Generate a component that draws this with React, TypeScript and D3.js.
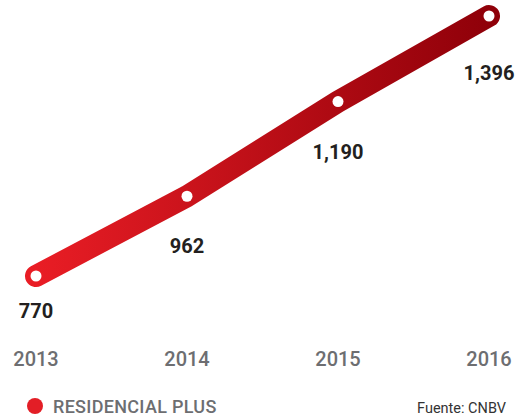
import React, { useEffect, useRef } from 'react';
import * as d3 from 'd3';

const years = ['2013', '2014', '2015', '2016'];
const values = [770, 962, 1190, 1396];
const seriesName = 'RESIDENCIAL PLUS';
const source = 'Fuente: CNBV';

const App = () => {
  const svgRef = useRef<SVGSVGElement>(null);

  useEffect(() => {
    const svg = d3.select(svgRef.current);
    svg.selectAll('*').remove();

    const x = d3.scalePoint<string>()
      .domain(years)
      .range([36, 489]);

    const y = d3.scaleLinear()
      .domain([770, 1396])
      .range([276, 16]);

    const data = years.map((yr, i) => ({ year: yr, value: values[i] }));

    // horizontal gradient for the thick line
    const defs = svg.append('defs');
    const grad = defs.append('linearGradient')
      .attr('id', 'lineGrad')
      .attr('gradientUnits', 'userSpaceOnUse')
      .attr('x1', x(years[0])!)
      .attr('x2', x(years[years.length - 1])!)
      .attr('y1', 0)
      .attr('y2', 0);
    grad.append('stop').attr('offset', '0%').attr('stop-color', '#e91d25');
    grad.append('stop').attr('offset', '100%').attr('stop-color', '#8f0009');

    const line = d3.line<{ year: string; value: number }>()
      .x(d => x(d.year)!)
      .y(d => y(d.value));

    svg.append('path')
      .datum(data)
      .attr('d', line)
      .attr('fill', 'none')
      .attr('stroke', 'url(#lineGrad)')
      .attr('stroke-width', 22)
      .attr('stroke-linecap', 'round')
      .attr('stroke-linejoin', 'round');

    // white dots
    svg.append('g')
      .selectAll('circle')
      .data(data)
      .join('circle')
      .attr('cx', d => x(d.year)!)
      .attr('cy', d => y(d.value))
      .attr('r', 5.5)
      .attr('fill', '#fff');

    // value labels
    svg.append('g')
      .selectAll('text')
      .data(data)
      .join('text')
      .attr('x', d => x(d.year)!)
      .attr('y', (d, i) => y(d.value) + (i === 0 ? 42 : 57 + (i === 3 ? 7 : 0)))
      .attr('text-anchor', 'middle')
      .attr('fill', '#231f20')
      .style('font-family', 'Roboto, sans-serif')
      .style('font-weight', 'bold')
      .style('font-size', '20px')
      .text(d => d3.format(',')(d.value));

    // year axis labels
    svg.append('g')
      .selectAll('text')
      .data(years)
      .join('text')
      .attr('x', d => x(d)!)
      .attr('y', 366)
      .attr('text-anchor', 'middle')
      .attr('fill', '#6d6e71')
      .style('font-family', 'Roboto, sans-serif')
      .style('font-weight', 500)
      .style('font-size', '20px')
      .text(d => d);

    // legend
    svg.append('circle')
      .attr('cx', 35)
      .attr('cy', 406)
      .attr('r', 8)
      .attr('fill', '#e31e26');

    svg.append('text')
      .attr('x', 53)
      .attr('y', 413)
      .attr('fill', '#6d6e71')
      .style('font-family', 'Roboto, sans-serif')
      .style('font-weight', 500)
      .style('font-size', '18px')
      .style('letter-spacing', '0.3px')
      .text(seriesName);

    svg.append('text')
      .attr('x', 506)
      .attr('y', 413)
      .attr('text-anchor', 'end')
      .attr('fill', '#333')
      .style('font-family', 'Roboto, sans-serif')
      .style('font-size', '14.5px')
      .text(source);
  }, []);

  return (
    <svg
      ref={svgRef}
      width={519}
      height={417}
      style={{ position: 'absolute', left: 0, top: 0 }}
    />
  );
};

export default App;
